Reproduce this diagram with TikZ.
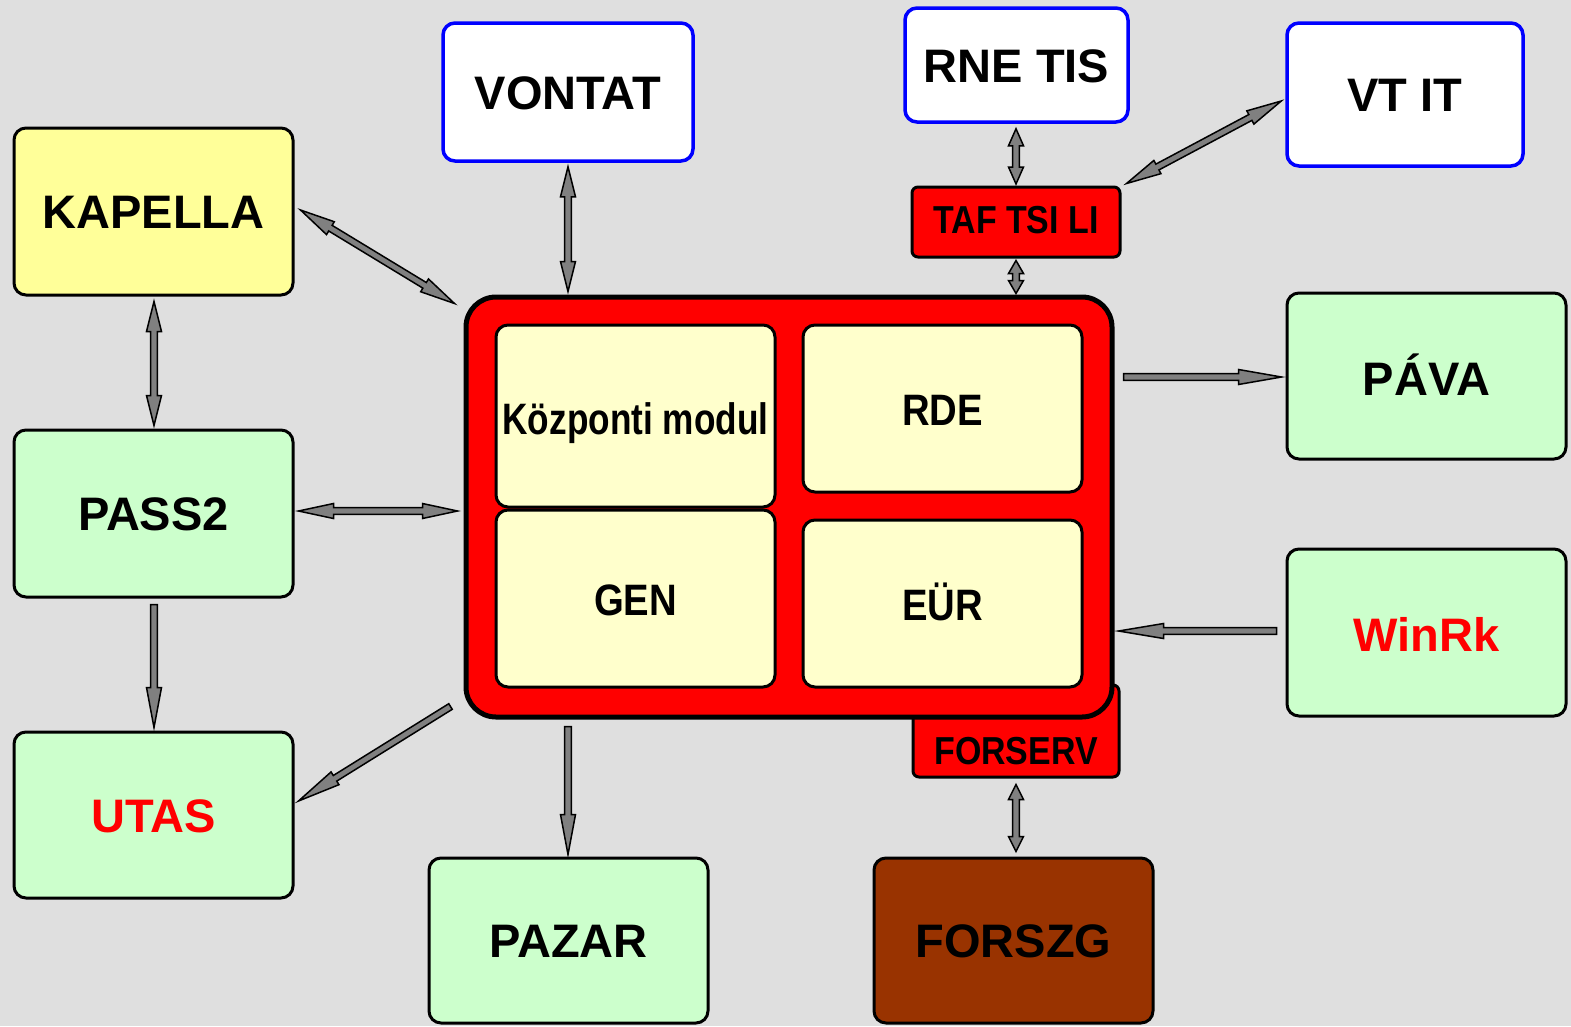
\documentclass[tikz,border=0pt]{standalone}
\usepackage{fontspec}
\setmainfont{Liberation Sans}
\newfontfamily\narrowA{Liberation Sans}[FakeStretch=0.87]
\newfontfamily\narrowB{Liberation Sans}[FakeStretch=0.80]
\usetikzlibrary{calc}
\definecolor{bg}{RGB}{223,223,223}
\definecolor{yellowc}{RGB}{255,255,153}
\definecolor{greenc}{RGB}{204,255,204}
\definecolor{creamc}{RGB}{255,255,204}
\definecolor{brownc}{RGB}{153,51,0}
\definecolor{redc}{RGB}{255,0,0}
\definecolor{bluec}{RGB}{0,0,255}
\definecolor{arrowc}{RGB}{128,128,128}
\def\ahw{7.5pt}
\def\asw{3.3pt}
\newcommand\dblarrow[3]{%
  \path (#2) coordinate (aA) (#3) coordinate (aB);
  \path ($(aA)!#1!(aB)$) coordinate (hA) ($(aB)!#1!(aA)$) coordinate (hB);
  \filldraw[conn] (aA) -- ($(hA)!\ahw!90:(aB)$) -- ($(hA)!\asw!90:(aB)$)
    -- ($(hB)!\asw!-90:(aA)$) -- ($(hB)!\ahw!-90:(aA)$) -- (aB)
    -- ($(hB)!\ahw!90:(aA)$) -- ($(hB)!\asw!90:(aA)$)
    -- ($(hA)!\asw!-90:(aB)$) -- ($(hA)!\ahw!-90:(aB)$) -- cycle;
}
\newcommand\sglarrow[3]{%
  \path (#2) coordinate (aA) (#3) coordinate (aB);
  \path ($(aB)!#1!(aA)$) coordinate (hB);
  \filldraw[conn] ($(aA)!\asw!90:(aB)$)
    -- ($(hB)!\asw!-90:(aA)$) -- ($(hB)!\ahw!-90:(aA)$) -- (aB)
    -- ($(hB)!\ahw!90:(aA)$) -- ($(hB)!\asw!90:(aA)$)
    -- ($(aA)!\asw!-90:(aB)$) -- cycle;
}
\tikzset{
  box/.style={draw=black, line width=3pt, rounded corners=12pt, inner sep=0pt,
    minimum width=279pt, minimum height=167pt,
    font=\bfseries\fontsize{47}{50}\selectfont, text height=34pt, text depth=0pt},
  greenbox/.style={box, fill=greenc},
  bluebox/.style={box, draw=bluec, fill=white, line width=3.5pt},
  innerbox/.style={box, fill=creamc, font=\narrowA\bfseries\fontsize{44}{48}\selectfont, text height=33pt},
  tabbox/.style={draw=black, fill=redc, line width=3pt, rounded corners=6pt, inner sep=0pt,
    font=\narrowA\bfseries\fontsize{39}{42}\selectfont, text height=28pt, text depth=0pt},
  tabtext/.style={inner sep=0pt, font=\narrowA\bfseries\fontsize{39}{42}\selectfont, text height=28pt, text depth=0pt},
  conn/.style={draw=black, fill=arrowc, line width=1.5pt, line join=miter},
}
\begin{document}
\begin{tikzpicture}[x=1pt,y=-1pt]
\fill[bg] (0,0) rectangle (1571,1026);
\useasboundingbox (0,0) rectangle (1571,1026);

% outer boxes
\node[box, fill=yellowc] (kapella) at (153.5,211.5) {KAPELLA};
\node[greenbox] (pass2) at (153.5,513.5) {PASS2};
\node[greenbox, minimum height=166pt, text=redc] (utas) at (153.5,815) {UTAS};
\node[greenbox, minimum height=165pt] (pazar) at (568.5,940.5) {PAZAR};
\node[box, fill=brownc, minimum height=165pt] (forszg) at (1013.5,940.5) {FORSZG};
\node[greenbox, minimum height=166pt, text height=38pt] (pava) at (1426.5,376) {PÁVA};
\node[greenbox, text=redc, text height=38pt] (winrk) at (1426.5,632.5) {WinRk};
\node[bluebox, minimum width=250pt, minimum height=138pt] (vontat) at (568,92) {VONTAT};
\node[bluebox, minimum width=223pt, minimum height=114pt] (rne) at (1016.5,65) {RNE TIS};
\node[bluebox, minimum width=236pt, minimum height=143pt] (vtit) at (1405,94.5) {VT IT};
\node[tabbox, minimum width=208pt, minimum height=70pt, text depth=6pt] (taf) at (1016,222) {TAF TSI LI};

% FORSERV tab behind main box
\node[tabbox, minimum width=206pt, minimum height=92pt] (forserv) at (1016,731) {};
\node[tabtext] (forservtxt) at (1016,750) {FORSERV};

% main box
\node[draw=black, fill=redc, line width=5pt, rounded corners=30pt, inner sep=0pt,
  minimum width=646pt, minimum height=420pt] (main) at (789,507) {};
\node[innerbox, minimum height=182pt, font=\narrowB\bfseries\fontsize{44}{48}\selectfont, text height=37.5pt] (kozp) at (635.5,416) {Központi modul};
\node[innerbox, minimum height=177pt] (gen) at (635.5,598.5) {GEN};
\node[innerbox] (rde) at (942.5,408.5) {RDE};
\node[innerbox] (eur) at (942.5,603.5) {EÜR};

% connector end points
\coordinate (k1) at ($(kapella.east)+(6,-1.5)$);
\coordinate (m1) at ($(main.north west)+(-9,9)$);
\coordinate (v1) at ($(vontat.south)+(0,4)$);
\coordinate (m2) at ($(vontat.south |- main.north)+(0,-3)$);
\coordinate (r1) at ($(rne.south)+(-0.5,5)$);
\coordinate (t1) at ($(taf.north)+(0,-1.5)$);
\coordinate (vt1) at ($(vtit.west)+(-4,6.5)$);
\coordinate (t2) at ($(taf.north east)+(5,-2)$);
\coordinate (t3) at ($(taf.south)+(0,2)$);
\coordinate (m3) at ($(taf.south |- main.north)+(0,-1)$);
\coordinate (k2) at ($(kapella.south)+(0.5,5)$);
\coordinate (p1) at ($(pass2.north)+(0.5,-3)$);
\coordinate (p2) at ($(pass2.east)+(4,-2.5)$);
\coordinate (m4) at ($(pass2.east -| main.west)+(-6,-2.5)$);
\coordinate (p3) at ($(pass2.south)+(0.5,6)$);
\coordinate (u1) at ($(utas.north)+(0.5,-3)$);
\coordinate (m5) at ($(main.south west)+(-13,-13)$);
\coordinate (u2) at ($(utas.east)+(4,-14)$);
\coordinate (m6) at ($(pazar.north |- main.south)+(-0.5,7)$);
\coordinate (pz1) at ($(pazar.north)+(-0.5,-2)$);
\coordinate (f1) at ($(forserv.south)+(0,6)$);
\coordinate (fz1) at ($(forserv.south |- forszg.north)+(0,-5)$);
\coordinate (m7) at ($(main.east |- pava.west)+(9,1)$);
\coordinate (pv1) at ($(pava.west)+(-4,1)$);
\coordinate (w1) at ($(winrk.west)+(-9,-1.5)$);
\coordinate (m8) at ($(main.east |- winrk.west)+(4,-1.5)$);

% connectors
\dblarrow{35pt}{k1}{m1}
\dblarrow{30pt}{v1}{m2}
\dblarrow{17pt}{r1}{t1}
\dblarrow{35pt}{vt1}{t2}
\dblarrow{13pt}{t3}{m3}
\dblarrow{30pt}{k2}{p1}
\dblarrow{35pt}{p2}{m4}
\sglarrow{40pt}{p3}{u1}
\sglarrow{43pt}{m5}{u2}
\sglarrow{40pt}{m6}{pz1}
\dblarrow{15pt}{f1}{fz1}
\sglarrow{43pt}{m7}{pv1}
\sglarrow{45pt}{w1}{m8}
\end{tikzpicture}
\end{document}
